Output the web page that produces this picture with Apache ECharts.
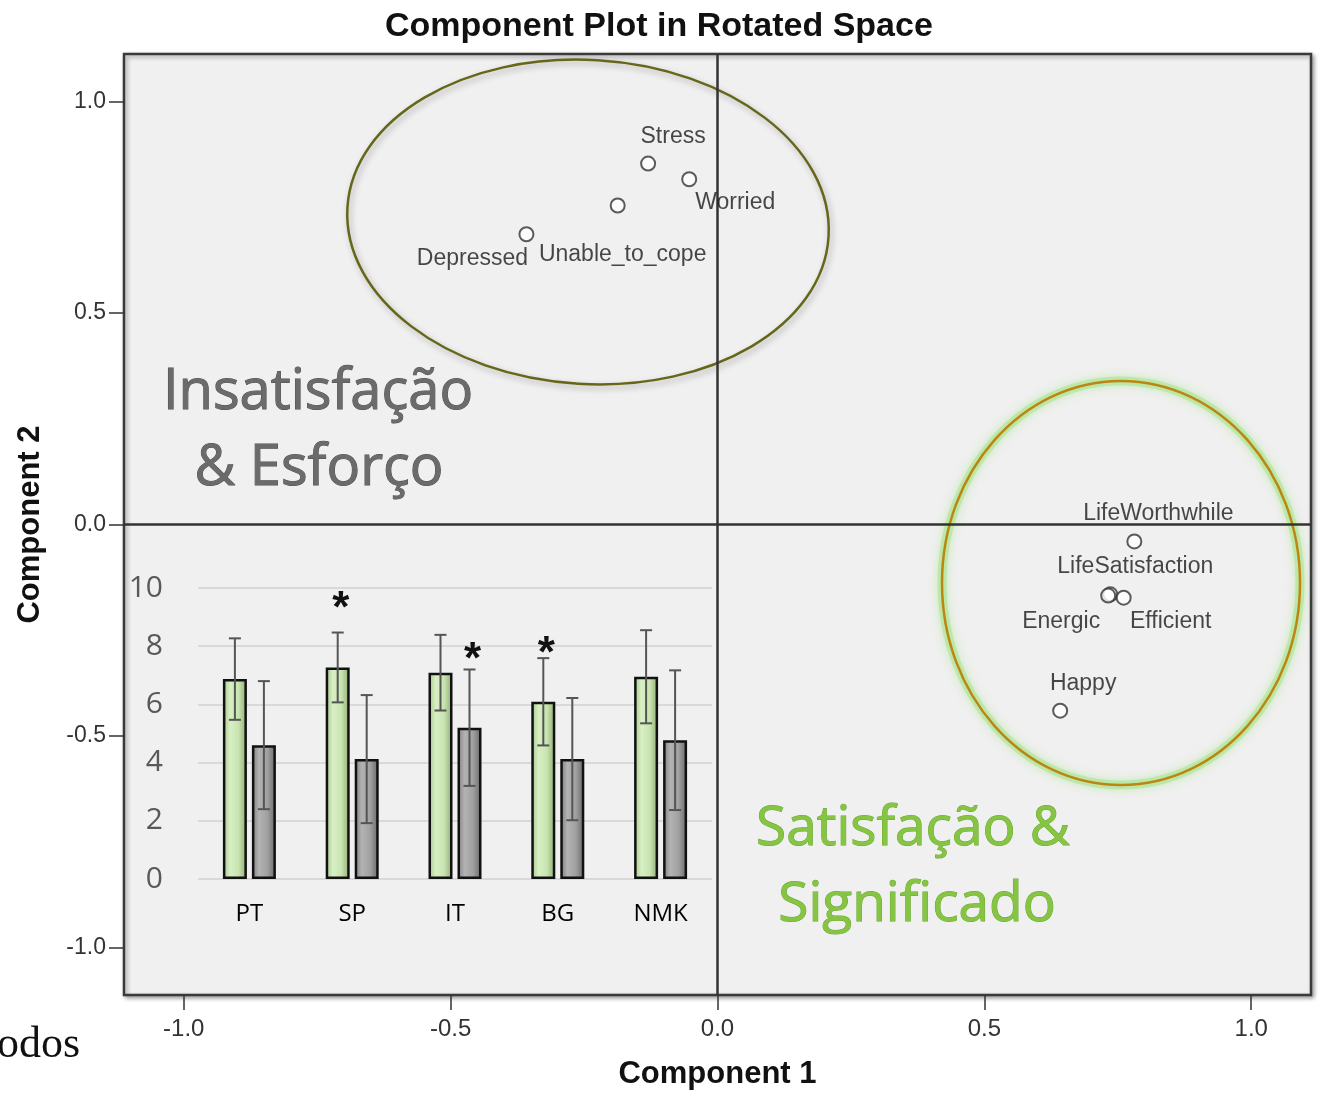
<!DOCTYPE html>
<html><head><meta charset="utf-8">
<script src="https://cdn.jsdelivr.net/npm/echarts@6/dist/echarts.min.js"></script>
<style>html,body{margin:0;padding:0;background:#fff}#c{width:1324px;height:1101px}</style>
</head><body><div id="c"></div>
<script>
// ---- component plot data ----
const pointNames = ['Stress','Worried','Unable_to_cope','Depressed','LifeWorthwhile','LifeSatisfaction','Energic','Efficient','Happy'];
const component1 = [-0.130,-0.053,-0.187,-0.358,0.781,0.736,0.732,0.761,0.642];
const component2 = [0.853,0.816,0.754,0.686,-0.040,-0.165,-0.168,-0.173,-0.440];
const axisTickValues = [-1.0,-0.5,0.0,0.5,1.0];

// ---- inset bar chart data ----
const barCategories = ['PT','SP','IT','BG','NMK'];
const greenMeans = [6.87,7.27,7.09,6.09,6.95];
const greenErr = [1.40,1.20,1.30,1.50,1.60];
const greyMeans = [4.60,4.12,5.20,4.12,4.77];
const greyErr = [2.20,2.20,2.00,2.10,2.40];
const barTicks = [0,2,4,6,8,10];
const sigCategory = ['SP','IT','BG'];
const sigSeries = ['green','grey','green'];
const sigHeight = [9.62,7.86,8.07];

// ---- styling (label placement, not data) ----
const labelOffset = {
  Stress:[25,-27], Worried:[46,23], Unable_to_cope:[5,49], Depressed:[-54,24],
  LifeWorthwhile:[24,-28], LifeSatisfaction:[25,-28], Energic:[-47,26], Efficient:[47,24], Happy:[23,-27]
};
const BAR_W = 24, BAR_GAP = 5, SHIFT = (BAR_W + BAR_GAP) / 2;
const SANS = "'Liberation Sans', Arial, sans-serif";

const chart = echarts.init(document.getElementById('c'), null, {renderer:'canvas'});

function errSeries(means, errs, side) {
  return {
    type:'custom', xAxisIndex:1, yAxisIndex:1, z:6, silent:true,
    encode:{x:0, y:1},
    data: means.map((m,i)=>[i, m, errs[i]]),
    renderItem(params, api){
      const i = api.value(0), m = api.value(1), e = api.value(2);
      const t = api.coord([i, m + e]), b = api.coord([i, m - e]);
      const x = t[0] + side * SHIFT, cap = 6;
      const st = {stroke:'#555', lineWidth:2};
      return {type:'group', children:[
        {type:'line', shape:{x1:x,y1:t[1],x2:x,y2:b[1]}, style:st},
        {type:'line', shape:{x1:x-cap,y1:t[1],x2:x+cap,y2:t[1]}, style:st},
        {type:'line', shape:{x1:x-cap,y1:b[1],x2:x+cap,y2:b[1]}, style:st}
      ]};
    }
  };
}

const greenFill = {type:'linear', x:0, y:0, x2:1, y2:0, colorStops:[
  {offset:0, color:'#a3c488'},{offset:0.3, color:'#d8f0c4'},{offset:0.65, color:'#c8e4b0'},{offset:1, color:'#8daa74'}]};
const greyFill = {type:'linear', x:0, y:0, x2:1, y2:0, colorStops:[
  {offset:0, color:'#7d7d7d'},{offset:0.3, color:'#b3b3b3'},{offset:0.65, color:'#a0a0a0'},{offset:1, color:'#666'}]};

const option = {
  backgroundColor:'#ffffff',
  animation:false,
  title:{
    text:'Component Plot in Rotated Space', left:380, top:5,
    textStyle:{fontFamily:SANS, fontWeight:'bold', fontSize:34, color:'#111'}
  },
  grid:[
    {left:124, right:13, top:54, bottom:106, show:true, backgroundColor:'#f0f0f0',
     borderColor:'#3a3a3a', borderWidth:2.5, shadowBlur:4, shadowColor:'rgba(0,0,0,0.35)', shadowOffsetX:2, shadowOffsetY:2, outerBoundsMode:'none'},
    {left:198, right:612, top:588, bottom:222, show:false, outerBoundsMode:'none'}
  ],
  xAxis:[
    {type:'value', gridIndex:0, min:-1.112, max:1.112, position:'bottom',
     name:'Component 1', nameLocation:'middle', nameGap:64,
     nameTextStyle:{fontFamily:SANS, fontWeight:'bold', fontSize:31, color:'#111'},
     axisLine:{show:false, onZero:false}, splitLine:{show:false},
     axisTick:{show:true, customValues:axisTickValues, length:15, lineStyle:{color:'#333', width:1.5}},
     axisLabel:{customValues:axisTickValues, formatter:v=>v.toFixed(1), fontFamily:SANS, fontSize:24, color:'#333', margin:22}
    },
    {type:'category', gridIndex:1, data:barCategories,
     axisLine:{show:false}, axisTick:{show:false},
     axisLabel:{fontFamily:"'Open Sans', sans-serif", fontSize:24, color:'#000', margin:23}
    }
  ],
  yAxis:[
    {type:'value', gridIndex:0, min:-1.112, max:1.112, position:'left',
     name:'Component 2', nameLocation:'middle', nameGap:78,
     nameTextStyle:{fontFamily:SANS, fontWeight:'bold', fontSize:31, color:'#111'},
     axisLine:{show:false, onZero:false}, splitLine:{show:false},
     axisTick:{show:true, customValues:axisTickValues, length:15, lineStyle:{color:'#333', width:1.5}},
     axisLabel:{customValues:axisTickValues, formatter:v=>v.toFixed(1), fontFamily:SANS, fontSize:23, color:'#333', margin:18}
    },
    {type:'value', gridIndex:1, min:0, max:10, interval:2,
     axisLine:{show:false}, axisTick:{show:false},
     splitLine:{show:true, lineStyle:{color:'#d9d9d9', width:2}},
     axisLabel:{fontFamily:"'Open Sans', sans-serif", fontSize:30, color:'#595959', margin:35}
    }
  ],
  series:[
    {
      type:'scatter', xAxisIndex:0, yAxisIndex:0, z:5,
      symbol:'emptyCircle', symbolSize:14,
      itemStyle:{color:'#333', borderWidth:1.6},
      data: pointNames.map((n,i)=>({name:n, value:[component1[i], component2[i]],
        label:{offset:labelOffset[n]}})),
      label:{show:true, position:'inside', formatter:p=>p.name,
        fontFamily:SANS, fontSize:23, color:'#1a1a1a'},
      markLine:{silent:true, symbol:['none','none'], label:{show:false},
        lineStyle:{color:'#333', width:2.5, type:'solid'},
        data:[{xAxis:0},{yAxis:0}]}
    },
    {type:'bar', name:'green', xAxisIndex:1, yAxisIndex:1, data:greenMeans,
     barWidth:BAR_W, barGap:(BAR_GAP/BAR_W*100)+'%', z:4,
     itemStyle:{color:greenFill, borderColor:'#111', borderWidth:2.5}},
    {type:'bar', name:'grey', xAxisIndex:1, yAxisIndex:1, data:greyMeans,
     barWidth:BAR_W, z:4,
     itemStyle:{color:greyFill, borderColor:'#111', borderWidth:2.5}},
    errSeries(greenMeans, greenErr, -1),
    errSeries(greyMeans, greyErr, 1),
    {
      type:'custom', xAxisIndex:1, yAxisIndex:1, z:7, silent:true,
      encode:{x:0, y:1},
      data: sigCategory.map((c,i)=>[barCategories.indexOf(c), sigHeight[i], sigSeries[i]==='green' ? -1 : 1]),
      renderItem(params, api){
        const p = api.coord([api.value(0), api.value(1)]);
        return {type:'text', x:p[0] + api.value(2)*SHIFT + 3, y:p[1] + 11,
          style:{text:'*', fontFamily:SANS, fontWeight:'bold', fontSize:44, fill:'#111', align:'center', verticalAlign:'middle'}};
      }
    }
  ],
  graphic:[
    {type:'ellipse', z:1, shape:{cx:0, cy:0, rx:241, ry:162}, x:588, y:222, rotation:-0.06,
     style:{fill:'none', stroke:'#66661a', lineWidth:2.5, shadowBlur:6, shadowColor:'rgba(0,0,0,0.3)', shadowOffsetX:2, shadowOffsetY:3}},
    {type:'ellipse', z:1, shape:{cx:1121, cy:583, rx:179, ry:202},
     style:{fill:'none', stroke:'#a7e48a', lineWidth:9, opacity:0.55, shadowBlur:10, shadowColor:'#a7e48a'}},
    {type:'ellipse', z:1, shape:{cx:1121, cy:583, rx:179, ry:202},
     style:{fill:'none', stroke:'#bb8712', lineWidth:2.5}},
    {type:'text', z:3, x:318, y:393, style:{text:'Insatisfação', fontFamily:"'Open Sans', sans-serif", fontSize:56, fill:'#6b6b6b',
      stroke:'#4f4f4f', lineWidth:1, align:'center', verticalAlign:'middle', shadowBlur:3, shadowColor:'rgba(0,0,0,0.25)', shadowOffsetY:1}},
    {type:'text', z:3, x:319, y:469, style:{text:'& Esforço', fontFamily:"'Open Sans', sans-serif", fontSize:56, fill:'#6b6b6b',
      stroke:'#4f4f4f', lineWidth:1, align:'center', verticalAlign:'middle', shadowBlur:3, shadowColor:'rgba(0,0,0,0.25)', shadowOffsetY:1}},
    {type:'text', z:3, x:913, y:829, style:{text:'Satisfação &', fontFamily:"'Open Sans', sans-serif", fontSize:55, fill:'#86c443',
      stroke:'#6aa630', lineWidth:1, align:'center', verticalAlign:'middle', shadowBlur:3, shadowColor:'rgba(0,0,0,0.2)', shadowOffsetY:1}},
    {type:'text', z:3, x:917, y:905, style:{text:'Significado', fontFamily:"'Open Sans', sans-serif", fontSize:55, fill:'#86c443',
      stroke:'#6aa630', lineWidth:1, align:'center', verticalAlign:'middle', shadowBlur:3, shadowColor:'rgba(0,0,0,0.2)', shadowOffsetY:1}},
    {type:'text', z:3, x:-3, y:1045, style:{text:'odos', fontFamily:"'Liberation Serif', serif", fontSize:44, fill:'#111',
      align:'left', verticalAlign:'middle'}}
  ]
};
chart.setOption(option);
</script></body></html>
